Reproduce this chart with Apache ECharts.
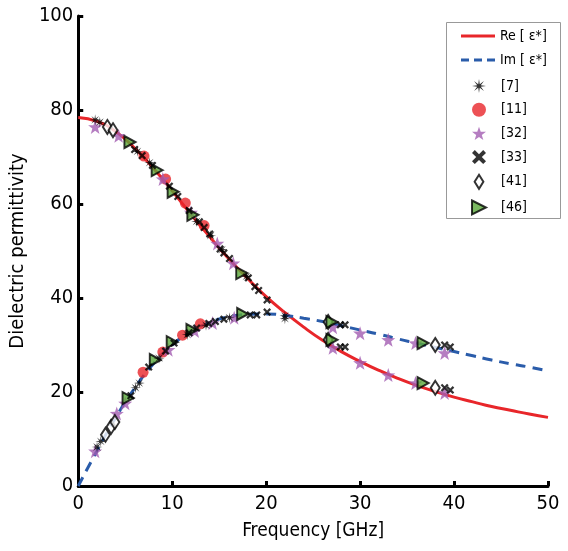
<!DOCTYPE html>
<html><head><meta charset="utf-8">
<script src="https://cdn.jsdelivr.net/npm/echarts@6/dist/echarts.min.js"></script>
<style>html,body{margin:0;padding:0;background:#fff}#c{width:568px;height:551px}</style>
</head><body><div id="c"></div>
<script>
// Fitted curves (frequency GHz, value)
const curveFreq = [0,2,4,6,8,10,12,14,16,18,20,22,24,26,28,30,32,34,36,38,40,42,44,46,48,50];
const reCurve = [78.4,77.6,75.4,71.9,67.6,62.8,57.8,53.0,48.4,44.2,40.3,36.9,33.8,31.0,28.6,26.5,24.6,22.9,21.4,20.1,18.9,17.9,16.9,16.1,15.3,14.6];
const imCurve = [0,7.5,14.6,20.8,26.0,30.0,32.9,34.8,36.0,36.5,36.6,36.3,35.7,35.0,34.1,33.2,32.3,31.3,30.4,29.5,28.6,27.7,26.8,26.0,25.3,24.5];

// Measured points [freq, value]
const ref7 = [[1.8,77.9],[2.3,77.4],[6.3,71.2],[7.6,68.8],[12.6,56.3],[14.1,53.3],[15.3,50.3],[17.9,44.6],[2.0,8.3],[2.4,9.5],[6.1,20.9],[6.5,21.9],[8.6,27.2],[11.6,32.2],[13.6,34.2],[16.1,35.8],[22.0,36.2],[22.0,35.6]];
const ref11 = [[7.0,70.2],[9.3,65.3],[11.4,60.2],[13.4,55.4],[6.9,24.2],[9.0,28.5],[11.1,32.1],[13.0,34.5]];
const ref32 = [[1.8,76.4],[4.3,74.5],[9.0,65.3],[12.0,58.2],[14.8,51.6],[16.5,47.4],[27.1,29.4],[30.0,26.2],[33.0,23.6],[35.9,21.9],[39.0,19.8],[1.8,7.4],[4.1,15.4],[5.0,17.6],[9.6,29.0],[12.4,33.0],[14.3,34.7],[16.6,35.8],[27.1,33.8],[30.0,32.5],[33.0,31.1],[35.9,30.4],[39.0,28.3]];
const ref33 = [[6.0,71.6],[6.8,70.3],[7.9,68.2],[9.7,63.8],[10.6,61.6],[11.8,58.6],[12.9,56.2],[13.4,55.0],[14.0,53.6],[15.1,50.4],[15.5,49.6],[16.1,48.4],[18.1,44.3],[18.8,42.4],[19.2,41.6],[20.1,39.6],[27.9,29.6],[28.4,29.6],[39.0,20.9],[39.6,20.4],[5.6,19.2],[7.5,25.3],[9.3,28.7],[10.2,30.4],[11.8,32.6],[12.6,33.6],[13.9,34.6],[14.6,35.0],[15.5,35.5],[18.3,36.4],[19.0,36.4],[20.1,37.0],[27.9,34.3],[28.4,34.3],[39.0,30.0],[39.6,29.6]];
const ref41 = [[3.1,76.4],[3.7,75.7],[26.6,31.1],[38.0,20.9],[2.9,10.9],[3.5,12.6],[3.9,13.6],[26.6,34.9],[38.0,30.0]];
const ref46 = [[5.5,73.2],[8.4,67.2],[10.1,62.6],[12.2,57.7],[17.4,45.3],[27.0,31.1],[36.7,21.9],[5.3,18.7],[8.2,26.8],[10.0,30.6],[12.1,33.2],[17.5,36.6],[27.0,34.9],[36.7,30.4]];

const xTicks = [0,10,20,30,40,50];
const yTicks = [0,20,40,60,80,100];

function starPath(n, r1, r2){
  let d='path://';
  for(let i=0;i<2*n;i++){
    const r = i%2===0?r1:r2;
    const a = -Math.PI/2 + i*Math.PI/n;
    d += (i===0?'M':'L') + (50+r*Math.cos(a)).toFixed(2)+','+(50+r*Math.sin(a)).toFixed(2)+' ';
  }
  return d+'Z';
}
const STAR = starPath(5,50,20);
const ASTER = starPath(8,50,14);
const CROSS = 'path://M0,2 L2,0 L5,3 L8,0 L10,2 L7,5 L10,8 L8,10 L5,7 L2,10 L0,8 L3,5 Z';
const DIAM = 'path://M5,0 L10,8 L5,16 L0,8 Z';
const TRI = 'path://M0,0 L12,6 L0,12 Z';
const LINE_SOLID = 'path://M0,0 L34,0 L34,3 L0,3 Z';
const LINE_DASH = 'path://M0,0 h8 v3 h-8 Z M13,0 h8 v3 h-8 Z M26,0 h8 v3 h-8 Z';

const FONT = "'DejaVu Sans Condensed','Liberation Sans Narrow',Roboto,sans-serif";
const chart = echarts.init(document.getElementById('c'), null, {renderer:'canvas'});
const zip = (xs, ys) => xs.map((x,i)=>[x, ys[i]]);
const legText = {fontFamily:FONT,fontSize:14,color:'#000'};

chart.setOption({
  animation:false,
  backgroundColor:'#fff',
  grid:{left:78,right:20,top:16,bottom:65},
  xAxis:{type:'value',min:0,max:50,interval:10,
    name:'Frequency [GHz]',nameLocation:'middle',nameGap:36,
    nameTextStyle:{fontFamily:FONT,fontSize:19,color:'#000'},
    axisLine:{show:true,lineStyle:{color:'#000',width:3}},
    axisTick:{show:true,inside:true,length:5,lineStyle:{color:'#000',width:3}},
    axisLabel:{fontFamily:FONT,fontSize:20,color:'#000',margin:8,
      formatter:v=>xTicks.includes(v)?String(v):''},
    splitLine:{show:false}},
  yAxis:{type:'value',min:0,max:100,interval:20,
    name:'Dielectric permittivity',nameLocation:'middle',nameGap:46,
    nameTextStyle:{fontFamily:FONT,fontSize:20,color:'#000'},
    axisLine:{show:true,lineStyle:{color:'#000',width:3}},
    axisTick:{show:true,inside:true,length:5,lineStyle:{color:'#000',width:3}},
    axisLabel:{fontFamily:FONT,fontSize:20,color:'#000',margin:5,
      formatter:v=>yTicks.includes(v)?String(v):''},
    splitLine:{show:false}},
  graphic:[{type:'rect',left:446,top:22,shape:{width:114,height:196},
    style:{fill:'#fff',stroke:'#999',lineWidth:1},z:0}],
  legend:[
    {orient:'vertical',left:461,top:29,padding:0,itemGap:10,itemWidth:34,itemHeight:14,
      textStyle:legText,
      data:[{name:'Re [ ε*]',icon:LINE_SOLID},{name:'Im [ ε*]',icon:LINE_DASH}]},
    {orient:'vertical',left:471,top:79,padding:0,itemGap:9.7,itemWidth:14,itemHeight:14,
      textStyle:Object.assign({padding:[0,0,0,10]},legText),
      data:[{name:'[7]',icon:ASTER},{name:'[11]',icon:'circle'},{name:'[32]',icon:STAR},
            {name:'[33]',icon:CROSS},{name:'[41]',icon:DIAM},{name:'[46]',icon:TRI}]}
  ],
  series:[
    {name:'Re [ ε*]',type:'line',data:zip(curveFreq,reCurve),smooth:true,showSymbol:false,symbol:'none',
      lineStyle:{color:'#e8262a',width:3},itemStyle:{color:'#e8262a'},z:1},
    {name:'Im [ ε*]',type:'line',data:zip(curveFreq,imCurve),smooth:true,showSymbol:false,symbol:'none',
      lineStyle:{color:'#2a5caa',width:3,type:[10,7]},itemStyle:{color:'#2a5caa'},z:1},
    {name:'[7]',type:'scatter',data:ref7,symbol:ASTER,symbolSize:11,
      itemStyle:{color:'#000'},z:5},
    {name:'[11]',type:'scatter',data:ref11,symbol:'circle',symbolSize:11,
      itemStyle:{color:'#e8262a'},z:3},
    {name:'[32]',type:'scatter',data:ref32,symbol:STAR,symbolSize:14,
      itemStyle:{color:'#a35db2'},z:3},
    {name:'[33]',type:'scatter',data:ref33,symbol:CROSS,symbolSize:8,
      itemStyle:{color:'#000'},z:6},
    {name:'[41]',type:'scatter',data:ref41,symbol:'diamond',symbolSize:[9,14],
      itemStyle:{color:'#fff',borderColor:'#000',borderWidth:2},z:4},
    {name:'[46]',type:'scatter',data:ref46,symbol:'triangle',symbolRotate:-90,symbolSize:[12,11],
      itemStyle:{color:'#5aa83a',borderColor:'#000',borderWidth:2},z:4}
  ]
});
</script></body></html>
